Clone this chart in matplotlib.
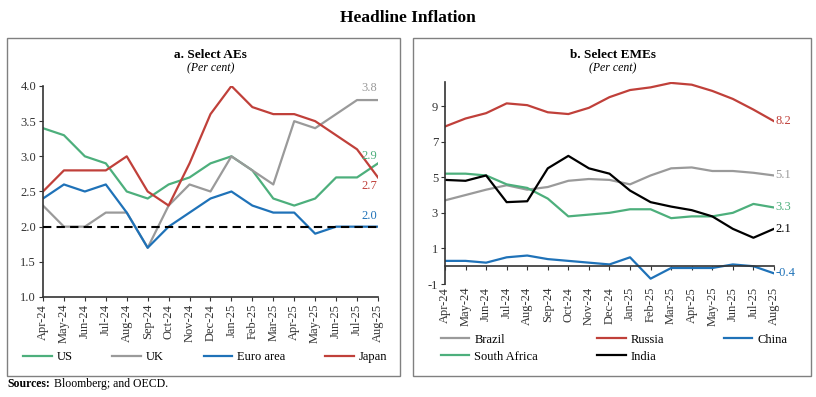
import matplotlib.pyplot as plt
from matplotlib.patches import Rectangle

plt.rcParams['font.family'] = ['Liberation Serif', 'DejaVu Serif']
plt.rcParams['axes.unicode_minus'] = False

# 데이터
months = ['Apr-24', 'May-24', 'Jun-24', 'Jul-24', 'Aug-24', 'Sep-24', 'Oct-24', 'Nov-24', 'Dec-24',
          'Jan-25', 'Feb-25', 'Mar-25', 'Apr-25', 'May-25', 'Jun-25', 'Jul-25', 'Aug-25']

us = [3.4, 3.3, 3.0, 2.9, 2.5, 2.4, 2.6, 2.7, 2.9, 3.0, 2.8, 2.4, 2.3, 2.4, 2.7, 2.7, 2.9]
uk = [2.3, 2.0, 2.0, 2.2, 2.2, 1.7, 2.3, 2.6, 2.5, 3.0, 2.8, 2.6, 3.5, 3.4, 3.6, 3.8, 3.8]
euro = [2.4, 2.6, 2.5, 2.6, 2.2, 1.7, 2.0, 2.2, 2.4, 2.5, 2.3, 2.2, 2.2, 1.9, 2.0, 2.0, 2.0]
japan = [2.5, 2.8, 2.8, 2.8, 3.0, 2.5, 2.3, 2.9, 3.6, 4.0, 3.7, 3.6, 3.6, 3.5, 3.3, 3.1, 2.7]
target = 2.0

brazil = [3.7, 4.0, 4.3, 4.55, 4.3, 4.45, 4.8, 4.9, 4.85, 4.6, 5.1, 5.5, 5.55, 5.35, 5.35, 5.25, 5.1]
russia = [7.85, 8.3, 8.6, 9.15, 9.05, 8.65, 8.55, 8.9, 9.5, 9.9, 10.05, 10.3, 10.2, 9.85, 9.4, 8.8, 8.15]
china = [0.3, 0.3, 0.2, 0.5, 0.6, 0.4, 0.3, 0.2, 0.1, 0.5, -0.7, -0.1, -0.1, -0.1, 0.1, 0.0, -0.4]
safrica = [5.2, 5.2, 5.1, 4.6, 4.4, 3.8, 2.8, 2.9, 3.0, 3.2, 3.2, 2.7, 2.8, 2.8, 3.0, 3.5, 3.3]
india = [4.85, 4.8, 5.1, 3.6, 3.65, 5.5, 6.2, 5.5, 5.2, 4.25, 3.6, 3.35, 3.15, 2.8, 2.1, 1.6, 2.1]

GREEN = '#4DAF7C'
GREY = '#9A9A9A'
BLUE = '#1F72B8'
RED = '#C0403A'
x = list(range(len(months)))

fig = plt.figure(figsize=(8.16, 3.97), dpi=100)

# 패널 테두리
for x0, w in [(0.0086, 0.4816), (0.506, 0.4877)]:
    fig.patches.append(Rectangle((x0, 0.053), w, 0.851, transform=fig.transFigure,
                                 fill=False, edgecolor='#808080', linewidth=1.0))

fig.text(0.5, 0.955, 'Headline Inflation', ha='center', va='center', fontsize=12.5, fontweight='bold')

# ---- a. Select AEs ----
ax1 = fig.add_axes([0.0527, 0.2519, 0.4105, 0.5315])
l_us, = ax1.plot(x, us, color=GREEN, lw=1.6)
l_uk, = ax1.plot(x, uk, color=GREY, lw=1.6)
l_eu, = ax1.plot(x, euro, color=BLUE, lw=1.6)
l_jp, = ax1.plot(x, japan, color=RED, lw=1.6)
ax1.axhline(target, color='black', lw=1.5, ls=(0, (4, 2.5)), zorder=5)
ax1.set_xlim(0, len(months) - 1)
ax1.set_ylim(1.0, 4.0)
ax1.set_yticks([1.0, 1.5, 2.0, 2.5, 3.0, 3.5, 4.0])
ax1.set_yticklabels(['%.1f' % v for v in [1.0, 1.5, 2.0, 2.5, 3.0, 3.5, 4.0]])
ax1.set_xticks(x)
ax1.set_xticklabels(months, rotation=90)
ax1.spines[['top', 'right']].set_visible(False)
ax1.spines[['left', 'bottom']].set_color('#333333')
ax1.spines[['left', 'bottom']].set_linewidth(1.2)
ax1.tick_params(labelsize=9, length=3, colors='#333333', pad=2)

n = len(months) - 1
ax1.annotate('%.1f' % uk[-1], (n, uk[-1]), xytext=(-6, 9), textcoords='offset points',
             ha='center', va='center', color=GREY, fontsize=9)
ax1.annotate('%.1f' % us[-1], (n, us[-1]), xytext=(-6, 5), textcoords='offset points',
             ha='center', va='center', color=GREEN, fontsize=9)
ax1.annotate('%.1f' % japan[-1], (n, japan[-1]), xytext=(-6, -6), textcoords='offset points',
             ha='center', va='center', color=RED, fontsize=9)
ax1.annotate('%.1f' % euro[-1], (n, euro[-1]), xytext=(-6, 8), textcoords='offset points',
             ha='center', va='center', color=BLUE, fontsize=9)

fig.text(0.2580, 0.8615, 'a. Select AEs', ha='center', va='center', fontsize=9.5, fontweight='bold')
fig.text(0.2580, 0.8287, '(Per cent)', ha='center', va='center', fontsize=8.5, style='italic')

fig.legend([l_us, l_uk, l_eu, l_jp], ['US', 'UK', 'Euro area', 'Japan'], loc='center',
           bbox_to_anchor=(0.028, 0.1008, 0.447, 0), mode='expand', ncol=4, frameon=False,
           fontsize=9, handlelength=2.3, handletextpad=0.4, borderpad=0, borderaxespad=0)

# ---- b. Select EMEs ----
ax2 = fig.add_axes([0.5453, 0.2846, 0.4032, 0.5088])
l_br, = ax2.plot(x, brazil, color=GREY, lw=1.6)
l_ru, = ax2.plot(x, russia, color=RED, lw=1.6)
l_cn, = ax2.plot(x, china, color=BLUE, lw=1.6)
l_sa, = ax2.plot(x, safrica, color=GREEN, lw=1.6)
l_in, = ax2.plot(x, india, color='black', lw=1.6)
ax2.set_xlim(0, len(months) - 1)
ax2.set_ylim(-1, 10.35)
ax2.set_yticks([-1, 1, 3, 5, 7, 9])
ax2.spines[['top', 'right']].set_visible(False)
ax2.spines['bottom'].set_position(('data', 0))
ax2.spines[['left', 'bottom']].set_color('#333333')
ax2.spines[['left', 'bottom']].set_linewidth(1.2)
ax2.set_xticks(x)
ax2.tick_params(axis='x', labelbottom=False, length=3, colors='#333333')
ax2.tick_params(axis='y', labelsize=9, length=3, colors='#333333', pad=2)
sec = ax2.secondary_xaxis('bottom')
sec.set_xticks(x)
sec.set_xticklabels(months, rotation=90)
sec.spines['bottom'].set_visible(False)
sec.tick_params(length=0, labelsize=9, colors='#333333', pad=2)

for vals, c in [(russia, RED), (brazil, GREY), (safrica, GREEN), (india, 'black'), (china, BLUE)]:
    ax2.annotate('%.1f' % vals[-1], (n, vals[-1]), xytext=(1, 0), textcoords='offset points',
                 ha='left', va='center', color=c, fontsize=9, annotation_clip=False)

fig.text(0.7513, 0.8615, 'b. Select EMEs', ha='center', va='center', fontsize=9.5, fontweight='bold')
fig.text(0.7513, 0.8287, '(Per cent)', ha='center', va='center', fontsize=8.5, style='italic')

# 열 단위로 채워지므로 순서를 맞춤: 1행 Brazil, Russia, China / 2행 South Africa, India
fig.legend([l_br, l_sa, l_ru, l_in, l_cn], ['Brazil', 'South Africa', 'Russia', 'India', 'China'],
           loc='center', bbox_to_anchor=(0.540, 0.1234, 0.425, 0), mode='expand', ncol=3,
           frameon=False, fontsize=9, handlelength=2.3, handletextpad=0.4, borderpad=0,
           borderaxespad=0, labelspacing=0.4)

fig.text(0.0086, 0.0327, 'Sources:', ha='left', va='center', fontsize=8.5, fontweight='bold')
fig.text(0.0665, 0.0327, 'Bloomberg; and OECD.', ha='left', va='center', fontsize=8.5)

plt.savefig('out.png', dpi=100)
